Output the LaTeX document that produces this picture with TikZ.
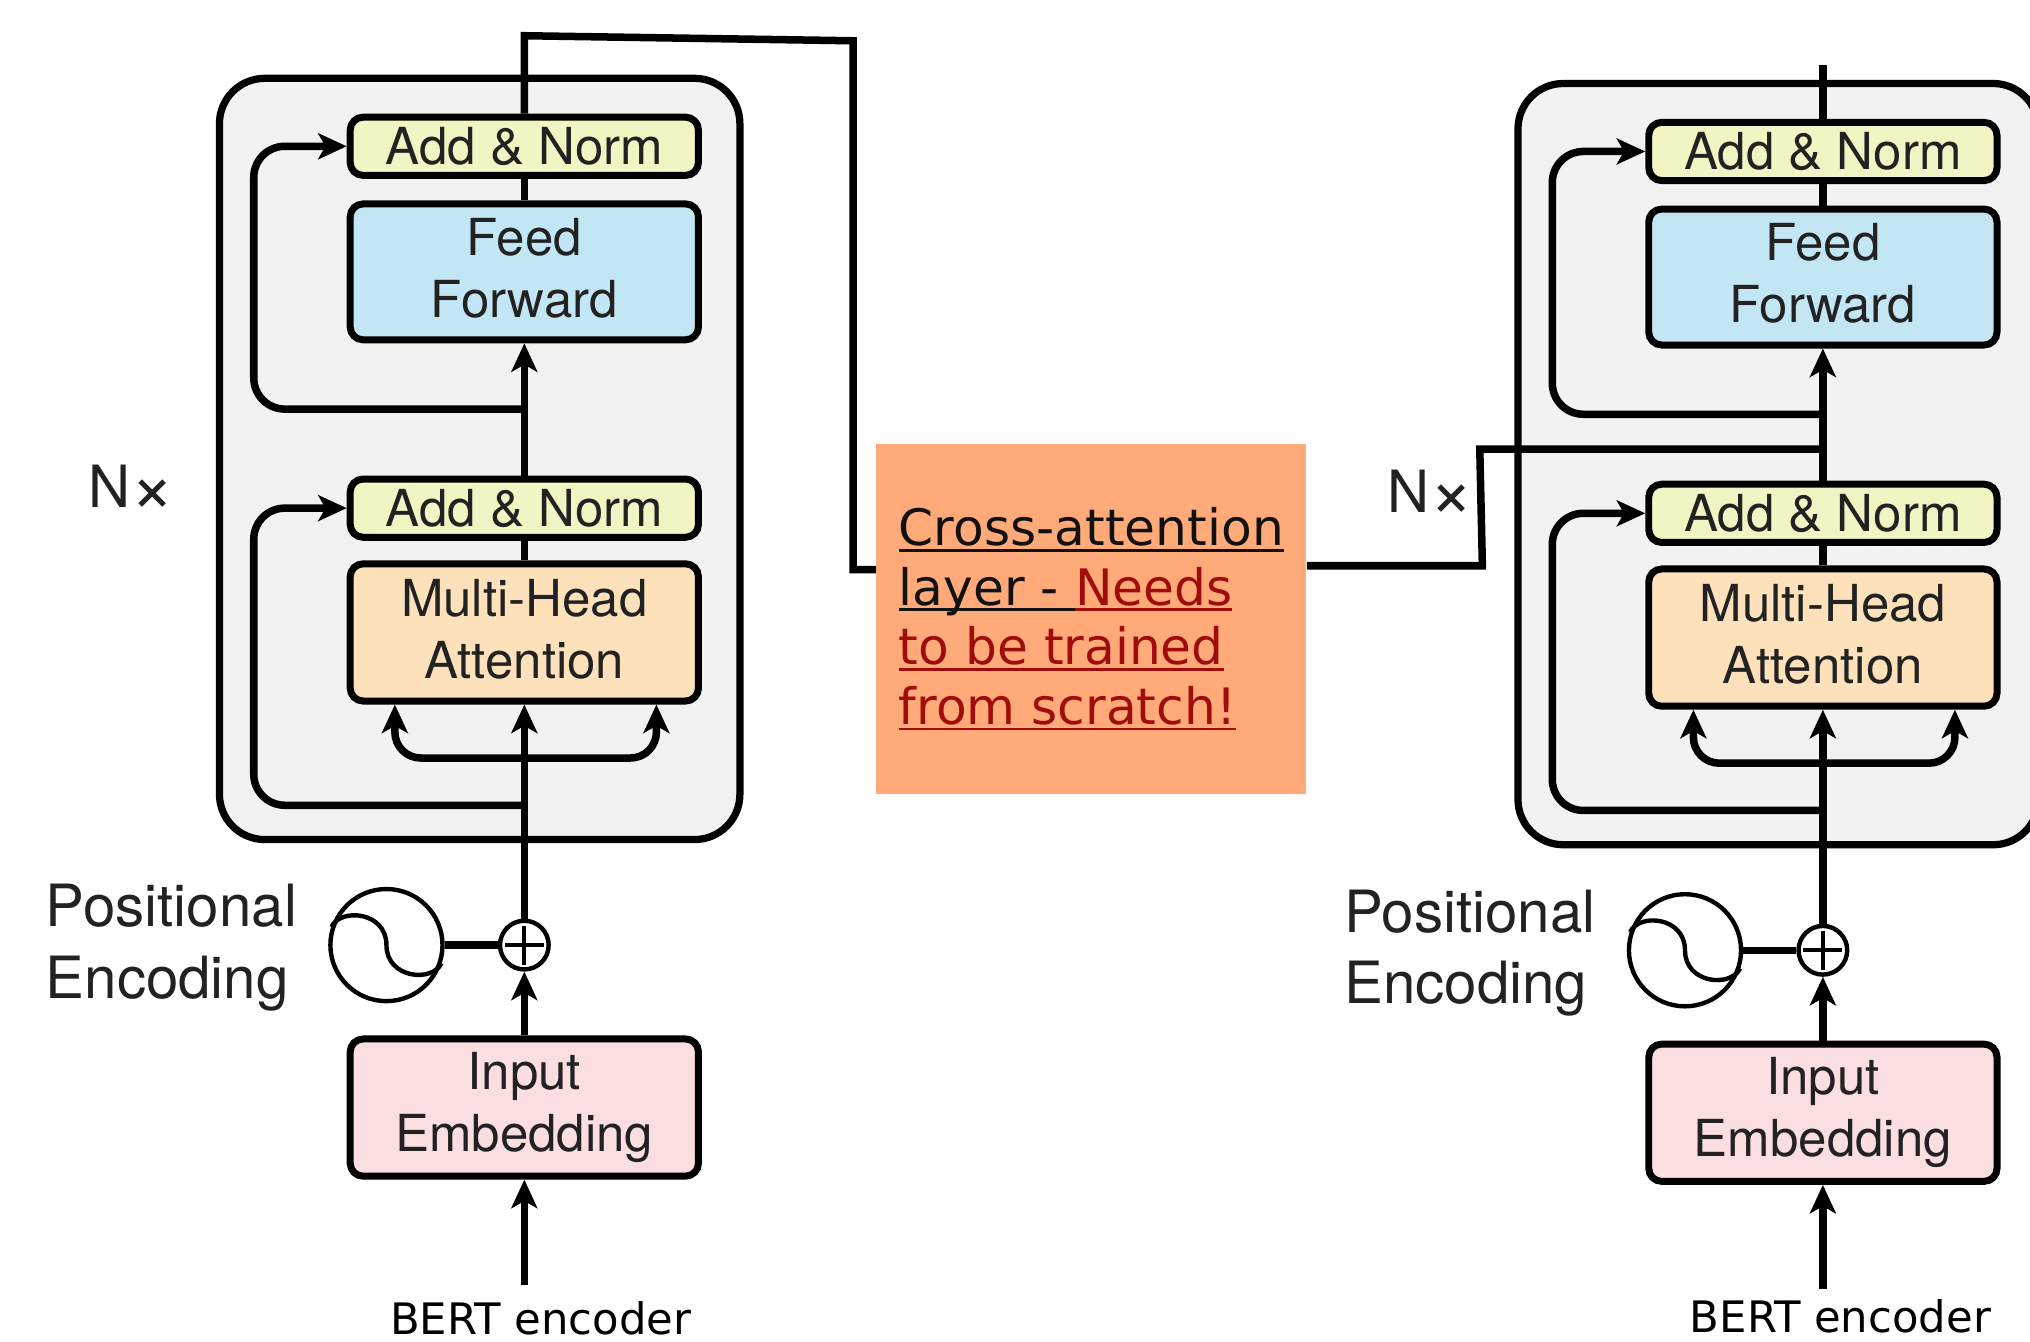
\documentclass[tikz,border=0pt]{standalone}
\usepackage{fontspec}
\setmainfont{TeX Gyre Heros}
\newfontfamily\dejavu{DejaVu Sans}
\usetikzlibrary{arrows.meta,calc}

% fills
\definecolor{normfill}{HTML}{F1F4C3}
\definecolor{fffill}{HTML}{C3E6F5}
\definecolor{attfill}{HTML}{FDE1BB}
\definecolor{embfill}{HTML}{FADEE0}
\definecolor{stackfill}{HTML}{F2F2F2}
\definecolor{xattfill}{HTML}{FFAA78}
\definecolor{needred}{RGB}{160,12,12}
\definecolor{ink}{HTML}{222222}
\definecolor{dark}{HTML}{111111}

% underline that sits at a fixed depth below the baseline
\newsavebox\ulbx
\newcommand\xul[1]{\sbox\ulbx{#1}\rlap{\rule[-0.12em]{\wd\ulbx}{0.055em}}\usebox\ulbx}
% extra depth to lift two-line labels a little
\newcommand\lift{\rule[-3pt]{0pt}{0pt}}
% a larger multiplication sign sitting on the baseline
\newcommand\bigtimes{\raisebox{-0.09em}{\scalebox{1.3}{×}}}

\newcommand\blkfont{\fontsize{19.7}{24}\selectfont}
\newcommand\sidefont{\fontsize{22.5}{27.5}\selectfont}
\newcommand\xattfont{\dejavu\fontsize{19.4}{23}\selectfont}
\newcommand\bertfont{\dejavu\fontsize{16.75}{20}\selectfont}

\tikzset{
  stack/.style={draw=black, fill=stackfill, line width=2.8pt, rounded corners=17.5pt,
    minimum width=201pt, minimum height=294pt, inner sep=0pt},
  blk/.style={draw=black, line width=2.7pt, rounded corners=5pt, minimum width=134.5pt,
    inner sep=0pt, align=center, font=\blkfont, text=ink},
  normblk/.style={blk, fill=normfill, minimum height=22.5pt},
  tallblk/.style={blk, minimum height=53pt},
  wire/.style={line width=2.9pt},
  arr/.style={wire, -{Stealth[length=11pt,width=10pt,inset=2.8pt]}},
  ring/.style={circle, draw=black, line width=1.7pt, fill=white, inner sep=0pt},
  side/.style={font=\sidefont, text=ink, inner sep=0pt},
  bert/.style={font=\bertfont, text=black, inner sep=0pt},
  xattbox/.style={fill=xattfill, minimum width=166pt, minimum height=135pt,
    inner sep=0pt, align=left, font=\xattfont, text=dark},
}

% one encoder stack; #1 = name prefix, (#2,#3) = offset
\newcommand\encoder[3]{%
\begin{scope}[shift={(#2,#3)}]
  \node[stack] (#1stack) at (370.5,354.5) {};
  \node[normblk] (#1an1) at (405,113) {Add \& Norm};
  \node[tallblk, fill=fffill, minimum height=52.5pt] (#1ff) at (405,210) {Feed\\Forward\lift};
  \node[normblk] (#1an2) at (405,392.5) {Add \& Norm};
  \node[tallblk, fill=attfill] (#1mha) at (405,488.5) {Multi-Head\\Attention\lift};
  \node[tallblk, fill=embfill] (#1emb) at (405,855.5) {Input\\Embedding};
  \node[ring, minimum size=18.8pt] (#1plus) at (405,730) {};
  \draw[line width=1.5pt] (#1plus.center) +(-15,0) -- +(15,0) +(0,-15) -- +(0,15);
  \node[ring, minimum size=43.3pt] (#1pe) at (298.5,730) {};
  \draw[line width=1.7pt] (256,716) .. controls (263,701) and (298.5,704) .. (298.5,730)
    .. controls (298.5,756) and (334,759) .. (341,744);
  \draw[wire] (#1pe.east) -- (#1plus.west);
  % main path
  \draw[arr] (#1emb.north) -- (#1plus.south);
  \draw[arr] (#1plus.north) -- (#1mha.south);
  \draw[wire] (#1mha.north) -- (#1an2.south);
  \draw[arr] (#1an2.north) -- (#1ff.south);
  \draw[wire] (#1ff.north) -- (#1an1.south);
  % residual branches
  \coordinate (#1j1) at (405,316);
  \coordinate (#1j2) at (405,622);
  \coordinate (#1j3) at (405,585.5);
  \draw[arr, rounded corners=12pt] (#1j1) -- (196,316) -- (196,113) -- (#1an1.west);
  \draw[arr, rounded corners=12pt] (#1j2) -- (196,622) -- (196,392.5) -- (#1an2.west);
  % query / key / value inputs
  \draw[arr, rounded corners=10pt] (#1j3) -- (305,585.5) -- (#1mha.south -| 305,0);
  \draw[arr, rounded corners=10pt] (#1j3) -- (507,585.5) -- (#1mha.south -| 507,0);
  % labels
  \node[side, anchor=base west] (#1nx) at (68,392) {N\bigtimes};
  \node[side, anchor=base west] (#1pos) at (35,716) {Positional};
  \node[side, anchor=base west] (#1enc) at (35,771) {Encoding};
\end{scope}}

\begin{document}
\begin{tikzpicture}[x=0.5pt,y=-0.5pt]
\useasboundingbox (0,0) rectangle (1568,1036);
\clip (0,0) rectangle (1568,1036);

\encoder{L}{0}{0}
\encoder{R}{1003}{4}

% token inputs
\coordinate (Lsrc) at (405,992.5);
\coordinate (Rsrc) at (1408,996);
\draw[arr] (Lsrc) -- (Lemb.south);
\draw[arr] (Rsrc) -- (Remb.south);
\node[bert, anchor=base] (Lbert) at (417.5,1031) {BERT encoder};
\node[bert, anchor=base] (Rbert) at (1421.5,1029) {BERT encoder};

% cross-attention block
\node[xattbox] (xatt) at (843,478) {%
  \xul{Cross-attention}\\
  \xul{layer - }\textcolor{needred}{\xul{Needs}}\\
  \textcolor{needred}{\xul{to be trained}}\\
  \textcolor{needred}{\xul{from scratch!}}};

\draw[wire] (Lan1.north) -- (405,27.6) -- (659,31.5) -- (659,440) -- ([yshift=19pt]xatt.west);
\coordinate (Rjoin) at (1408,347);
\draw[wire] ([yshift=20.5pt]xatt.east) -- (1145,437) -- (1143,347) -- (Rjoin);
\coordinate (Rout) at (1408,50);
\draw[wire] (Ran1.north) -- (Rout);
\end{tikzpicture}
\end{document}
